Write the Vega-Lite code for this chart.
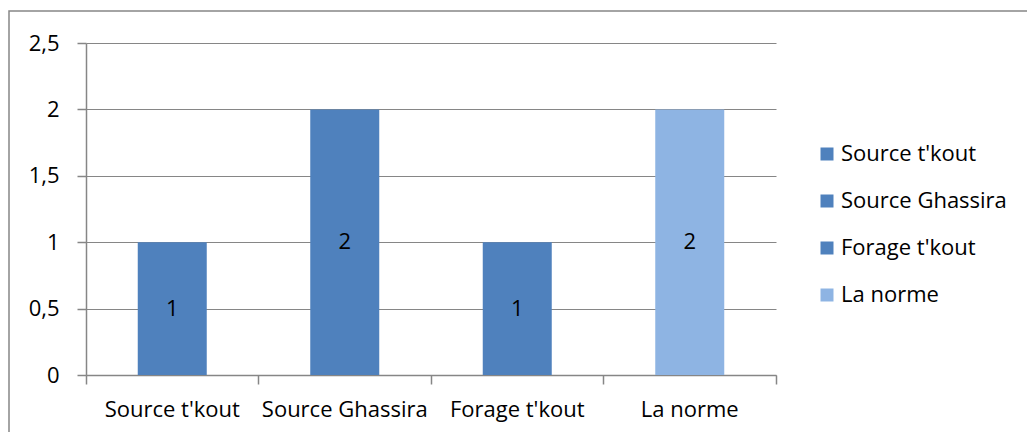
{
  "$schema": "https://vega.github.io/schema/vega-lite/v6.json",
  "autosize": "none",
  "width": 1022,
  "height": 425,
  "padding": {"left": 9, "top": 11, "right": -4, "bottom": -4},
  "background": "white",
  "data": {"values": [
    {"cat": "Source t'kout", "value": 1},
    {"cat": "Source Ghassira", "value": 2},
    {"cat": "Forage t'kout", "value": 1},
    {"cat": "La norme", "value": 2}
  ]},
  "transform": [{"calculate": "datum.value / 2", "as": "mid"}],
  "encoding": {
    "x": {
      "field": "cat", "type": "nominal", "sort": null,
      "scale": {"paddingInner": 0, "paddingOuter": 0, "range": [77, 767]},
      "axis": {
        "title": null, "labelAngle": 0, "labelFontSize": 22, "labelColor": "#000000",
        "labelFont": "Open Sans", "labelPadding": 15, "offset": -61,
        "bandPosition": 1, "tickExtra": true,
        "tickSize": 9, "tickColor": "#868686", "domainColor": "#868686", "grid": false
      }
    }
  },
  "layer": [
    {
      "mark": {"type": "bar", "width": {"band": 0.4}},
      "encoding": {
        "y": {
          "field": "value", "type": "quantitative",
          "scale": {"domain": [0, 2.5], "nice": false, "range": [364, 32]},
          "axis": {
            "title": null, "values": [0, 0.5, 1, 1.5, 2, 2.5], "offset": -77,
            "labelExpr": "replace(toString(datum.value), '.', ',')",
            "labelFontSize": 22, "labelFont": "Open Sans", "labelColor": "#000000",
            "tickSize": 9, "tickColor": "#868686", "domainColor": "#868686",
            "gridColor": "#868686", "labelPadding": 18
          }
        },
        "color": {
          "field": "cat", "type": "nominal", "sort": null,
          "scale": {
            "domain": ["Source t'kout", "Source Ghassira", "Forage t'kout", "La norme"],
            "range": ["#4F81BD", "#4F81BD", "#4F81BD", "#8EB4E3"]
          },
          "legend": {
            "title": null, "orient": "none", "legendX": 807, "legendY": 132,
            "symbolType": "square", "symbolSize": 169, "symbolStrokeWidth": 0,
            "labelFontSize": 22, "labelFont": "Open Sans", "labelColor": "#000000",
            "labelLimit": 400, "rowPadding": 25, "labelOffset": 3
          }
        }
      }
    },
    {
      "mark": {"type": "text", "fontSize": 22, "font": "Open Sans", "color": "#000000"},
      "encoding": {
        "y": {"field": "mid", "type": "quantitative"},
        "text": {"field": "value", "type": "quantitative"}
      }
    }
  ],
  "config": {
    "view": {"stroke": "#868686", "strokeWidth": 1.5},
    "axis": {"gridWidth": 1, "domainWidth": 1.5, "tickWidth": 1.5}
  }
}
